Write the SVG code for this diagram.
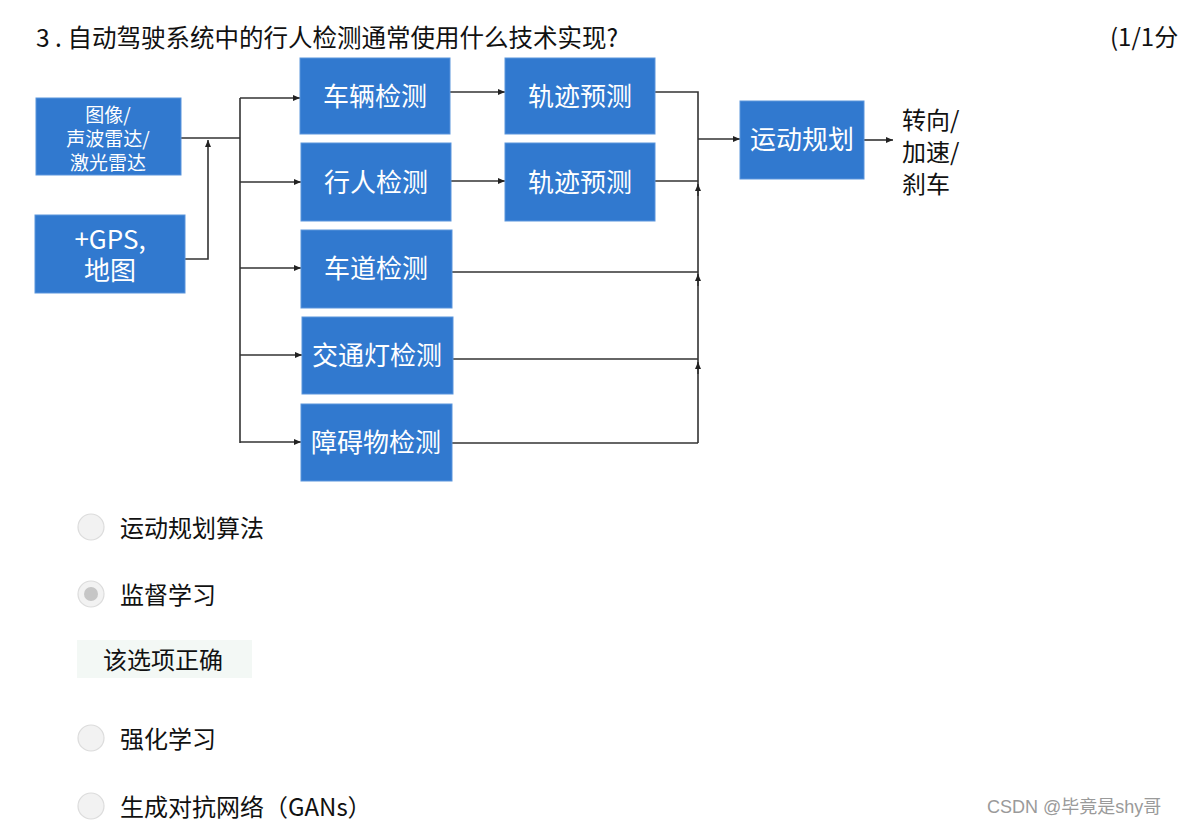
<svg xmlns="http://www.w3.org/2000/svg" width="1183" height="828" viewBox="0 0 1183 828">
<style>
.box{fill:#3179cf;stroke:#5a95dc;stroke-width:1}
.bt{font-family:"Noto Sans CJK SC","Noto Sans",sans-serif;fill:#fff;font-size:26px;text-anchor:middle}
.bs{font-size:19px}
.c{fill:none;stroke:#333;stroke-width:1.6}
.radio{fill:#f2f2f2;stroke:#dcdcdc;stroke-width:1.2}
.opt{font-family:"Noto Sans CJK SC","Noto Sans",sans-serif;font-size:24px;fill:#111}
.title{font-size:24.5px}
</style>
<defs>
<marker id="ah" markerWidth="8" markerHeight="8" refX="7" refY="4" orient="auto" markerUnits="userSpaceOnUse">
<path d="M0,1 L7,4 L0,7 Z" fill="#222"/>
</marker>
</defs>
<rect width="1183" height="828" fill="#fff"/>
<text class="opt title" x="36" y="47">3 . 自动驾驶系统中的行人检测通常使用什么技术实现?</text>
<text class="opt" x="1110" y="46">(1/1分</text>

<g id="connectors">
<path class="c" d="M181,138 H240"/>
<path class="c" d="M240,98 V443"/>
<path class="c" d="M240,98 H300" marker-end="url(#ah)"/>
<path class="c" d="M240,182 H301" marker-end="url(#ah)"/>
<path class="c" d="M240,268 H301" marker-end="url(#ah)"/>
<path class="c" d="M240,355 H302" marker-end="url(#ah)"/>
<path class="c" d="M240,442 H301" marker-end="url(#ah)"/>
<path class="c" d="M185,259 H208 V140" marker-end="url(#ah)"/>
<path class="c" d="M450,92 H505" marker-end="url(#ah)"/>
<path class="c" d="M451,181 H505" marker-end="url(#ah)"/>
<path class="c" d="M655,92 H698 V443"/>
<path class="c" d="M655,181 H698"/>
<path class="c" d="M452,272 H698"/>
<path class="c" d="M453,359 H698"/>
<path class="c" d="M452,443 H698"/>
<path class="c" d="M698,196 V184" marker-end="url(#ah)"/>
<path class="c" d="M698,286 V274" marker-end="url(#ah)"/>
<path class="c" d="M698,374 V362" marker-end="url(#ah)"/>
<path class="c" d="M698,139 H740" marker-end="url(#ah)"/>
<path class="c" d="M864,140 H893" marker-end="url(#ah)"/>
</g>

<g id="n-sensor"><rect class="box" x="36" y="98" width="145" height="77"/>
<text class="bt bs" x="108" y="122">图像/</text>
<text class="bt bs" x="108" y="146">声波雷达/</text>
<text class="bt bs" x="108" y="170">激光雷达</text></g>
<g id="n-gps"><rect class="box" x="35" y="215" width="150" height="78"/>
<text class="bt" x="110" y="249">+GPS,</text>
<text class="bt" x="110" y="280">地图</text></g>
<g id="n-vehicle"><rect class="box" x="300" y="58" width="150" height="76"/><text class="bt" x="375" y="106">车辆检测</text></g>
<g id="n-traj1"><rect class="box" x="505" y="58" width="150" height="76"/><text class="bt" x="580" y="106">轨迹预测</text></g>
<g id="n-ped"><rect class="box" x="301" y="143" width="150" height="78"/><text class="bt" x="376" y="192">行人检测</text></g>
<g id="n-traj2"><rect class="box" x="505" y="143" width="150" height="78"/><text class="bt" x="580" y="192">轨迹预测</text></g>
<g id="n-lane"><rect class="box" x="301" y="230" width="151" height="78"/><text class="bt" x="376" y="278">车道检测</text></g>
<g id="n-light"><rect class="box" x="302" y="317" width="151" height="77"/><text class="bt" x="377" y="365">交通灯检测</text></g>
<g id="n-obst"><rect class="box" x="301" y="404" width="151" height="77"/><text class="bt" x="376" y="452">障碍物检测</text></g>
<g id="n-plan"><rect class="box" x="740" y="101" width="124" height="78"/><text class="bt" x="802" y="149">运动规划</text></g>
<g id="n-out">
<text class="opt" x="902" y="129">转向/</text>
<text class="opt" x="902" y="161">加速/</text>
<text class="opt" x="902" y="193">刹车</text></g>

<g id="options">
<circle class="radio" cx="91" cy="527" r="13"/>
<text class="opt" x="120" y="537">运动规划算法</text>
<circle class="radio" cx="91" cy="594" r="13"/>
<circle cx="91" cy="594" r="7" fill="#c6c6c6"/>
<text class="opt" x="120" y="604">监督学习</text>
<rect x="77" y="640" width="175" height="38" fill="#f3f8f5"/>
<text class="opt" x="103" y="669">该选项正确</text>
<circle class="radio" cx="91" cy="738" r="13"/>
<text class="opt" x="120" y="748">强化学习</text>
<circle class="radio" cx="91" cy="806" r="13"/>
<text class="opt" x="120" y="816">生成对抗网络（GANs）</text>
</g>
<text x="987" y="813" font-family="Liberation Sans, Noto Sans CJK SC, sans-serif" font-size="18" fill="#9a9a9a">CSDN @毕竟是shy哥</text>
</svg>
